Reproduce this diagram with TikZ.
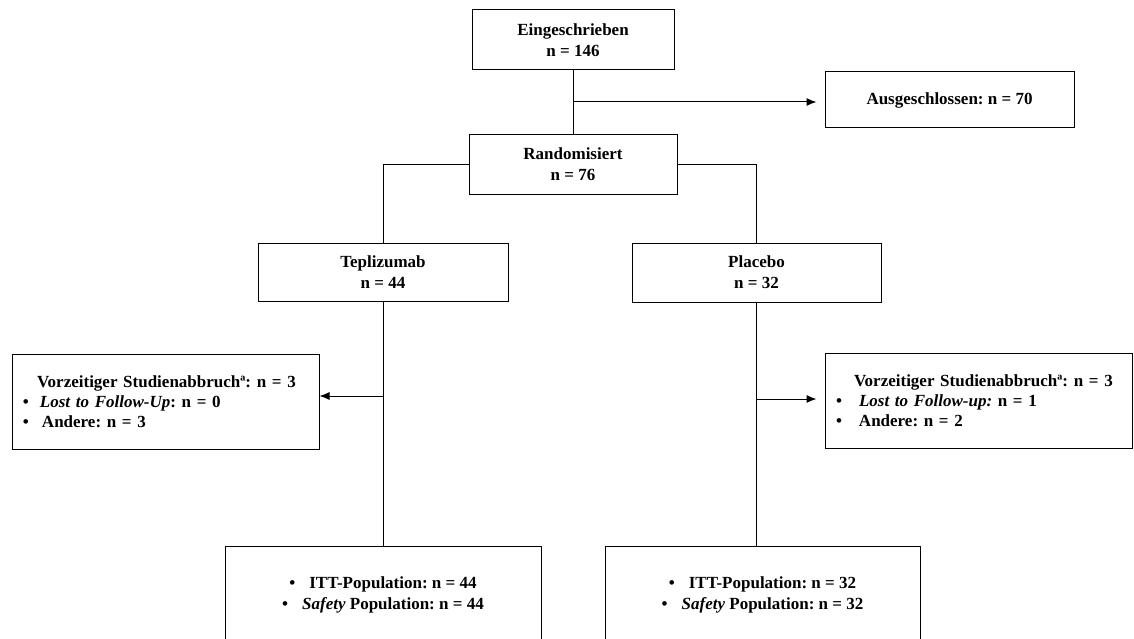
\documentclass[tikz,border=0pt]{standalone}
\usepackage{fontspec}
\setmainfont{Liberation Serif}
\usetikzlibrary{arrows.meta}
\frenchspacing

\tikzset{
  box/.style={draw, line width=1pt, inner sep=0pt, align=center,
    font=\fontsize{17}{21}\selectfont\bfseries},
  dropbox/.style={box, align=left, inner xsep=11pt, text width=285pt,
    minimum height=95pt, font=\fontsize{17}{20}\selectfont\bfseries},
  arr/.style={-{Latex[length=10pt,width=8pt]}},
}

\begin{document}
\begin{tikzpicture}[x=1pt, y=-1pt, line width=1pt]
    \useasboundingbox (0,0) rectangle (1134,639);
    \clip (0,0) rectangle (1134,639);

    % upper part
    \node[box, minimum width=202pt, minimum height=60pt] (enrolled) at (573,40) {Eingeschrieben\\n = 146};
    \node[box, minimum width=249pt, minimum height=56pt] (excluded) at (949.5,100) {Ausgeschlossen: n = 70};
    \node[box, minimum width=208pt, minimum height=59pt] (random) at (573,164.5) {Randomisiert\\n = 76};
    \node[box, minimum width=250pt, minimum height=58pt] (tepl) at (383,272) {Teplizumab\\n = 44};
    \node[box, minimum width=249pt, minimum height=59pt] (plac) at (756.5,272.5) {Placebo\\n = 32};

    % dropouts
    \node[dropbox] (dropL) at (165.5,401.5) {\hspace*{14pt}Vorzeitiger Studienabbruchª: n = 3\\
        \makebox[17pt][l]{\textbullet}\textit{Lost to Follow-Up}: n = 0\\
        \makebox[19pt][l]{\textbullet}Andere: n = 3};
    \node[dropbox] (dropR) at (978.5,400.5) {\hspace*{18pt}Vorzeitiger Studienabbruchª: n = 3\\
        \makebox[23pt][l]{\textbullet}\textit{Lost to Follow-up:} n = 1\\
        \makebox[23pt][l]{\textbullet}Andere: n = 2};

    % populations
    \node[box, minimum width=316pt, minimum height=98pt] (popL) at (383,595) {\textbullet\hspace{14pt}ITT-Population: n = 44\\
        \textbullet\hspace{14pt}\textit{Safety} Population: n = 44};
    \node[box, minimum width=315pt, minimum height=98pt] (popR) at (762.5,595) {\textbullet\hspace{14pt}ITT-Population: n = 32\\
        \textbullet\hspace{14pt}\textit{Safety} Population: n = 32};

    % connectors
    \coordinate (exclsplit) at (573,102);
    \coordinate (teplsplit) at (383,396);
    \coordinate (placsplit) at (756.5,399);

    \draw (enrolled.south) -- (random.north);
    \draw[arr, shorten >=8pt] (exclsplit) -- (exclsplit -| excluded.west);
    \draw (random.west) -| (tepl.north);
    \draw (random.east) -| (plac.north);
    \draw (tepl.south) -- (popL.north);
    \draw (plac.south) -- (plac.south |- popR.north);
    \draw[arr] (teplsplit) -- (teplsplit -| dropL.east);
    \draw[arr, shorten >=8pt] (placsplit) -- (placsplit -| dropR.west);
\end{tikzpicture}
\end{document}
